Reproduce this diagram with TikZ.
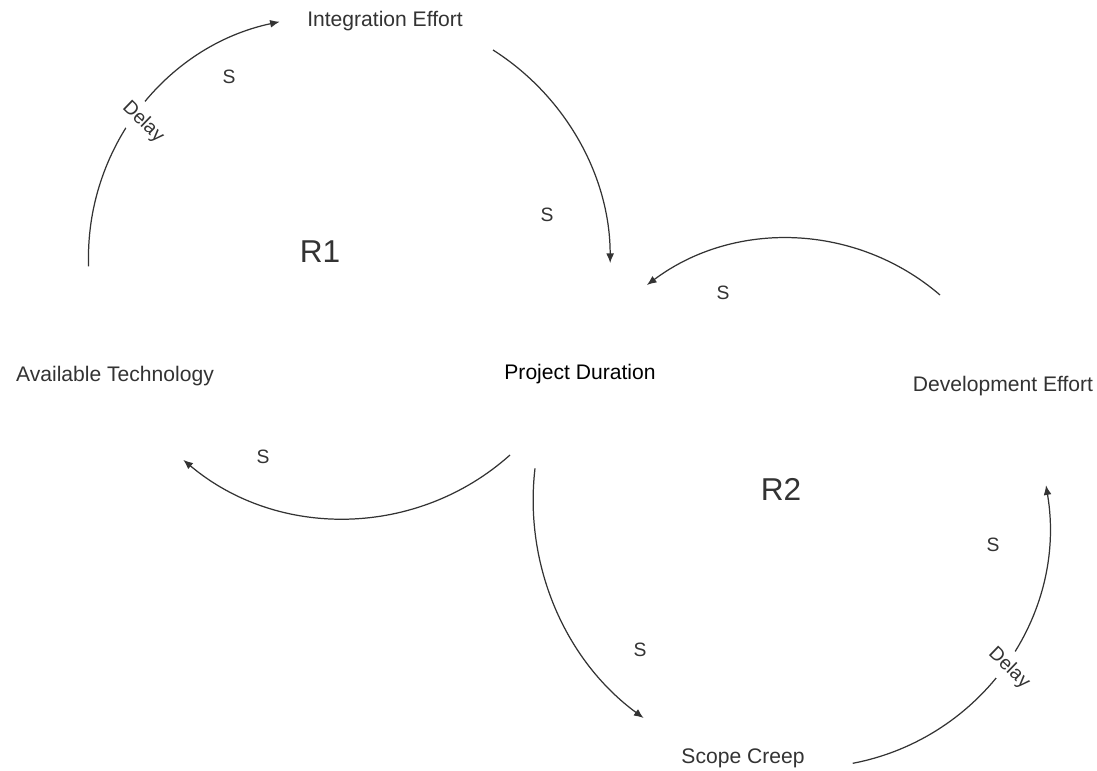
\documentclass[tikz,border=0pt]{standalone}
\usepackage{fontspec}
\setmainfont{Liberation Sans}
\usetikzlibrary{arrows.meta}
\begin{document}
\begin{tikzpicture}[x=0.02cm,y=-0.02cm,
	every node/.style={text=black!80,font=\fontsize{12}{14}\selectfont,anchor=base},
	sign/.style={font=\fontsize{11}{13}\selectfont,anchor=center},
	loopname/.style={font=\fontsize{18}{21}\selectfont},
	delay/.style={font=\fontsize{11}{13}\selectfont,anchor=center,rotate=-44,fill=white,inner sep=4pt},
	link/.style={black!80,line width=0.7pt,-{Latex[length=5.5pt,width=4.5pt]}}]
\useasboundingbox (0,0) rectangle (1097,770);
\node (it) at (385,27) {Integration Effort};
\node (at) at (115,381) {Available Technology};
\node[text=black] (pd) at (580,379) {Project Duration};
\node (de) at (1003,391) {Development Effort};
\node (sc) at (743,763) {Scope Creep};
\node[loopname] (r1) at (320,262) {R1};
\node[loopname] (r2) at (781,500) {R2};
% loop R1
\coordinate (at-it) at (88.6,266.4);
\coordinate (it-pd) at (493,50);
\coordinate (pd-at) at (510,455);
\draw[link] (at-it) arc[start angle=178,end angle=258,radius=241.5];
\draw[link] (it-pd) arc[start angle=302.4,end angle=360,radius=252.4];
\draw[link] (pd-at) arc[start angle=48.2,end angle=130.1,radius=249.3];
\node[delay] (d1) at (143,122) {Delay};
\node[sign] (s1) at (229,77) {S};
\node[sign] (s2) at (547,215) {S};
\node[sign] (s4) at (263,457) {S};
% loop R2
\coordinate (de-pd) at (940,295);
\coordinate (pd-sc) at (535,468.3);
\coordinate (sc-de) at (852.7,763.3);
\draw[link] (de-pd) arc[start angle=310.7,end angle=233.2,radius=234.3];
\draw[link] (pd-sc) arc[start angle=186.7,end angle=126.3,radius=270.7];
\draw[link] (sc-de) arc[start angle=79.2,end angle=-9.6,radius=242];
\node[delay] (d2) at (1009,668) {Delay};
\node[sign] (s3) at (723,293) {S};
\node[sign] (s5) at (640,650) {S};
\node[sign] (s6) at (993,545) {S};
\end{tikzpicture}
\end{document}
